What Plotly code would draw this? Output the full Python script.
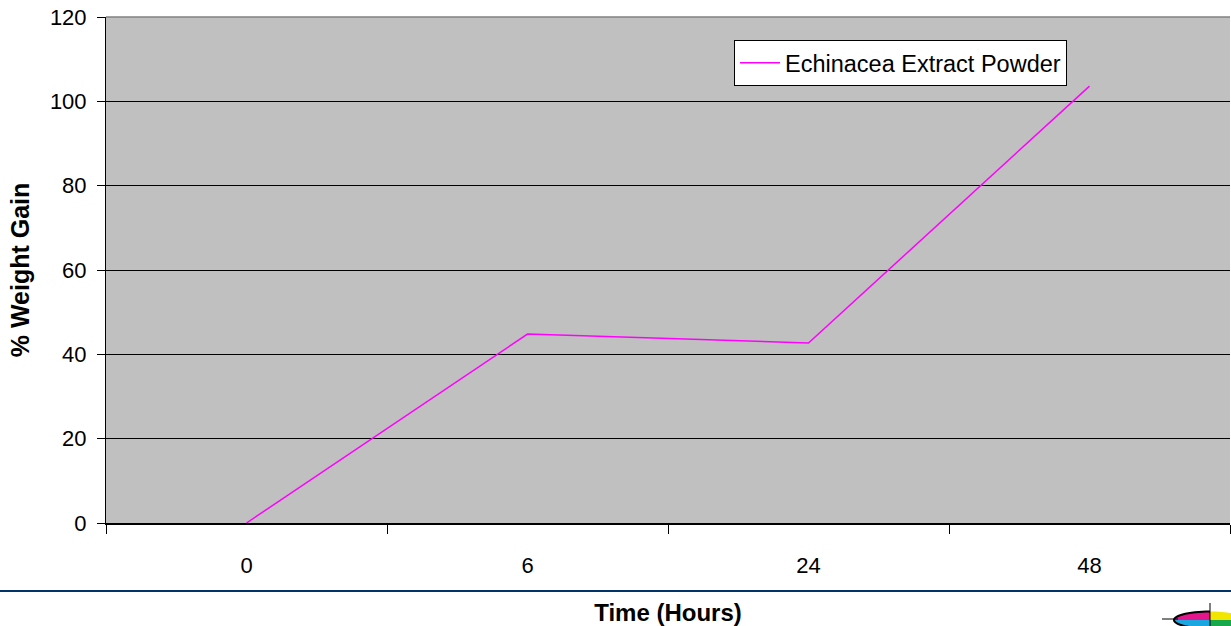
import numpy as np
import plotly.graph_objects as go

# ---- data ----
time_labels = ["0", "6", "24", "48"]
weight_gain = [0.0, 44.8, 42.7, 103.6]
series_name = "Echinacea Extract Powder"
y_ticks = [0, 20, 40, 60, 80, 100, 120]

W, H = 1231, 626
L, R, T, B = 106, 1, 17, 103
PW, PH = W - L - R, H - T - B


def px(x):
    return (x - L) / PW


def py(y):
    return (H - B - y) / PH


fig = go.Figure()
fig.add_trace(go.Scatter(
    x=time_labels, y=weight_gain, mode="lines", name=series_name,
    line=dict(color="#FF00FF", width=1.5),
))

shapes = []
# top border of plot (grey)
shapes.append(dict(type="line", xref="paper", yref="paper", x0=0, x1=1, y0=1, y1=1,
                   line=dict(color="#808080", width=1.5), layer="above"))
# navy slide rule
shapes.append(dict(type="line", xref="paper", yref="paper", x0=px(0), x1=px(W + 2),
                   y0=py(591), y1=py(591), line=dict(color="#003366", width=2)))

# logo (decoration)
cx, cy, rx, ry = 1210, 620, 36, 8.5


def quad(a0, a1):
    t = np.linspace(a0, a1, 20)
    pts = [(cx, cy)] + [(cx + rx * np.cos(a), cy - ry * np.sin(a)) for a in t]
    return "M " + " L ".join(f"{px(a):.5f},{py(b):.5f}" for a, b in pts) + " Z"


for (a0, a1), col in [((np.pi / 2, np.pi), "#E5168B"), ((np.pi, 1.5 * np.pi), "#1AA6E0"),
                      ((0, np.pi / 2), "#F2E600"), ((1.5 * np.pi, 2 * np.pi), "#17A84B")]:
    shapes.append(dict(type="path", xref="paper", yref="paper", path=quad(a0, a1),
                       fillcolor=col, line=dict(width=0)))
t = np.linspace(np.pi / 2, 1.5 * np.pi, 30)
outline = "M " + " L ".join(f"{px(cx + rx * np.cos(a)):.5f},{py(cy - ry * np.sin(a)):.5f}" for a in t)
shapes.append(dict(type="path", xref="paper", yref="paper", path=outline,
                   line=dict(color="black", width=2)))
shapes.append(dict(type="line", xref="paper", yref="paper", x0=px(1162), x1=px(1178),
                   y0=py(619), y1=py(619), line=dict(color="black", width=1)))
shapes.append(dict(type="line", xref="paper", yref="paper", x0=px(1210), x1=px(1210),
                   y0=py(603), y1=py(628), line=dict(color="black", width=1)))

fig.update_layout(
    width=W, height=H,
    margin=dict(l=L, r=R, t=T, b=B, autoexpand=False),
    paper_bgcolor="white", plot_bgcolor="#C0C0C0",
    font=dict(family="Liberation Sans, Arial, sans-serif", color="black", size=22),
    showlegend=True,
    legend=dict(x=px(734), y=py(40), xanchor="left", yanchor="top",
                bgcolor="white", bordercolor="black", borderwidth=1,
                font=dict(size=23.5), itemwidth=40),
    xaxis=dict(
        type="category", categoryorder="array", categoryarray=time_labels,
        range=[-0.5, len(time_labels) - 0.5],
        showline=True, linecolor="black", linewidth=1.5,
        ticks="outside", tickson="boundaries", ticklen=9, tickcolor="black", tickwidth=1,
        showgrid=False, tickfont=dict(size=22), ticklabelstandoff=22,
        title=dict(text="<b>Time (Hours)</b>", font=dict(size=24), standoff=29),
        automargin=False, fixedrange=True,
    ),
    yaxis=dict(
        range=[0, 120], tickvals=y_ticks,
        showline=True, linecolor="black", linewidth=1,
        ticks="outside", ticklen=8, tickcolor="black", tickwidth=1,
        showgrid=True, gridcolor="black", gridwidth=1,
        zeroline=False, tickfont=dict(size=22), ticklabelstandoff=6,
        title=dict(text="<b>% Weight Gain</b>", font=dict(size=25), standoff=13),
        automargin=False, fixedrange=True,
    ),
    shapes=shapes,
)

fig.write_html("out.html", config={"displayModeBar": False},
               post_script="document.body.style.margin='0';document.body.style.overflow='hidden';")
